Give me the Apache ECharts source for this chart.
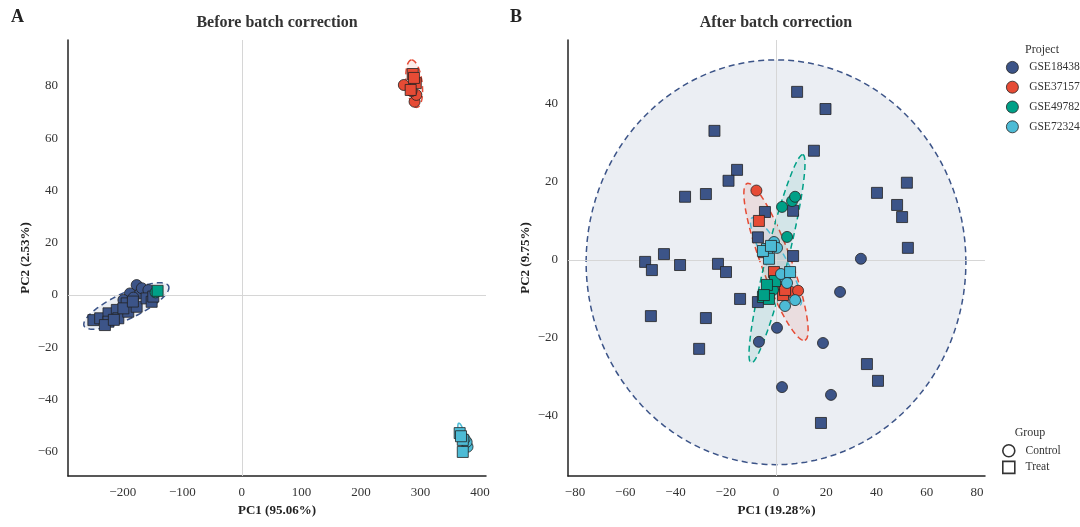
<!DOCTYPE html>
<html>
<head>
<meta charset="utf-8">
<script src="https://cdn.jsdelivr.net/npm/echarts@6/dist/echarts.min.js"></script>
<style>
  html, body { margin:0; padding:0; background:#fff; }
  #chart { width:1080px; height:527px; }
</style>
</head>
<body>
<div id="chart"></div>
<script>
const projects = ['GSE18438', 'GSE37157', 'GSE49782', 'GSE72324'];
const colors = ['#3C5488', '#E64B35', '#00A087', '#4DBBD5'];

// Before batch correction: [PC1, PC2]
const beforeControl = [
  [[-176.7, 3.8], [-188, 0.6], [-171, 0.6], [-199, -1.9], [-168, 2.6], [-157, 1.9], [-182, -1.0]],
  [[272, 80.3], [290, 73.9], [293, 76.5], [285, 78.0]],
  [[-145, 1.0]],
  [[379, -58], [377.5, -56.2], [374, -55]]
];
const beforeTreat = [
  [[-249.4, -9.6], [-238, -8.9], [-224, -7.0], [-224, -10.2], [-210, -5.7], [-207.5, -8.9], [-193.5, -3.2],
   [-190.8, -6.4], [-176.7, -4.5], [-160, -1.3], [-151.5, -2.6], [-148.8, -0.6], [-230, -11.5], [-199, -5.1],
   [-215, -9.5], [-183, -2.5]],
  [[287, 84.5], [292, 81], [289, 83], [283.5, 78.4]],
  [[-141.5, 1.6]],
  [[365.8, -52.8], [371, -55.4], [371, -60], [368, -54]]
];

// After batch correction
const afterControl = [
  [[33.8, 0.3], [25.5, -8.2], [18.7, -21.3], [21.9, -34.6], [0.4, -17.4], [-6.8, -21.0], [2.4, -32.6]],
  [[-7.8, 17.8], [6.0, -8.2], [8.8, -7.9], [2.8, -7.7]],
  [[2.4, 13.6], [6.4, 15.1], [7.6, 16.2], [4.4, 5.9], [-1.2, -7.7]],
  [[-0.8, 4.6], [0.4, 3.1], [3.6, -4.6], [4.4, -5.9], [3.6, -11.8], [2.0, -3.6], [7.6, -10.3]]
];
const afterTreat = [
  [[8.4, 43.1], [19.7, 38.7], [-24.5, 33.1], [15.1, 28.0], [-15.5, 23.1], [-18.9, 20.3], [-27.9, 16.9],
   [-36.2, 16.2], [-4.4, 12.3], [6.8, 12.6], [40.2, 17.2], [52.1, 19.8], [48.2, 14.1], [50.2, 11.0],
   [52.5, 3.1], [-7.2, 5.8], [-44.6, 1.5], [-52.1, -0.5], [-49.4, -2.6], [-38.2, -1.3], [-23.1, -1.0],
   [-19.9, -3.1], [6.8, 1.0], [-14.3, -10.0], [-7.2, -10.8], [-49.8, -14.4], [-27.9, -14.9], [-30.6, -22.8],
   [36.2, -26.7], [40.6, -31.0], [17.9, -41.8]],
  [[-6.8, 10.0], [-0.8, -3.1], [2.8, -9.0], [3.6, -7.7], [-4.8, 2.0]],
  [[-0.4, -5.4], [-3.6, -6.4], [-5.2, -9.5], [-2.8, -10.0], [-4.8, -9.0]],
  [[-3.6, 2.8], [-2.8, 0.3], [-5.2, 2.3], [5.6, -3.1], [-2.0, 3.6]]
];

// ellipses: [centerX, centerY, axis1X, axis1Y, axis2X, axis2Y] per project
const beforeEllipse = [
  [-194, -4.2, 71, 7.6, 8.5, -4.6],
  [289.4, 80.8, -4.7, 9.06, 13.3, 0.37],
  [-142, 1.5, 6, 0.8, 0.5, -1.2],
  [371, -54.7, -6.7, 5.7, 4.9, 0.3]
];
const afterEllipse = [
  [0, -0.6, 75.6, 0, 0, 51.9],
  [0, -0.5, 11.5, -20.1, 5.6, 1.3],
  [0.4, 0.3, 10.3, 26.7, 4.25, -0.69],
  [0, -0.4, 9.55, -11.2, 3.48, 1.24]
];

const serif = '"Liberation Serif", "DejaVu Serif", serif';
const minus = v => String(v).replace('-', '\u2212');

function hexA(hex, a) {
  const n = parseInt(hex.slice(1), 16);
  return `rgba(${n >> 16},${(n >> 8) & 255},${n & 255},${a})`;
}

function ellipseSeries(list, gi) {
  return {
    type: 'custom',
    xAxisIndex: gi, yAxisIndex: gi,
    silent: true, z: 1,
    encode: {x: 0, y: 1},
    data: list.map((e, i) => e.concat([i])),
    renderItem: (params, api) => {
      const cx = api.value(0), cy = api.value(1);
      const ux = api.value(2), uy = api.value(3), vx = api.value(4), vy = api.value(5);
      const c = colors[api.value(6)];
      const pts = [];
      for (let k = 0; k <= 120; k++) {
        const t = k / 120 * Math.PI * 2;
        pts.push(api.coord([cx + ux * Math.cos(t) + vx * Math.sin(t), cy + uy * Math.cos(t) + vy * Math.sin(t)]));
      }
      return {
        type: 'polygon',
        shape: {points: pts},
        style: {fill: hexA(c, 0.1), stroke: c, lineWidth: 1.5, lineDash: [6, 4]}
      };
    },
    markLine: {
      silent: true, symbol: 'none', label: {show: false}, z: 2,
      lineStyle: {color: '#d6d6d6', width: 1, type: 'solid'},
      data: [{xAxis: 0}, {yAxis: 0}]
    }
  };
}

function pointSeries(ctrl, treat, gi) {
  const out = [];
  projects.forEach((p, i) => {
    [[ctrl[i], 'circle'], [treat[i], 'rect']].forEach(([d, sym]) => {
      out.push({
        type: 'scatter', name: p, xAxisIndex: gi, yAxisIndex: gi, z: 3,
        symbol: sym, symbolSize: 11, data: d,
        itemStyle: {color: colors[i], borderColor: '#222', borderWidth: 0.8, opacity: 1}
      });
    });
  });
  return out;
}

function axis(gi, name, min, max, split, gap) {
  return {
    type: 'value', gridIndex: gi, min, max, splitNumber: split,
    name, nameLocation: 'middle', nameGap: gap,
    nameTextStyle: {fontFamily: serif, fontWeight: 'bold', fontSize: 13, color: '#222'},
    axisLine: {show: true, onZero: false, lineStyle: {color: '#222', width: 1.5}},
    axisTick: {show: false}, splitLine: {show: false},
    axisLabel: {fontFamily: serif, fontSize: 13, color: '#333', margin: 10,
      showMinLabel: false, showMaxLabel: false, formatter: minus}
  };
}

const chart = echarts.init(document.getElementById('chart'), null, {renderer: 'canvas'});
chart.setOption({
  backgroundColor: '#fff',
  animation: false,
  grid: [
    {left: 68, top: 40, width: 418, height: 436},
    {left: 568, top: 40, width: 417, height: 436}
  ],
  xAxis: [axis(0, 'PC1 (95.06%)', -292, 410, 7, 26), axis(1, 'PC1 (19.28%)', -82.8, 83.2, 8, 26)],
  yAxis: [axis(0, 'PC2 (2.53%)', -69.2, 97.5, 8, 36), axis(1, 'PC2 (9.75%)', -55.4, 56.4, 6, 36)],
  graphic: [
    {type: 'text', left: 11, top: 8, style: {text: 'A', font: 'bold 18px ' + serif, fill: '#222'}},
    {type: 'text', left: 510, top: 8, style: {text: 'B', font: 'bold 18px ' + serif, fill: '#222'}},
    {type: 'text', x: 277, y: 15, style: {text: 'Before batch correction', font: 'bold 16px ' + serif, fill: '#333', align: 'center'}},
    {type: 'text', x: 776, y: 15, style: {text: 'After batch correction', font: 'bold 16px ' + serif, fill: '#333', align: 'center'}},
    {type: 'text', x: 1042, y: 44, style: {text: 'Project', font: '12px ' + serif, fill: '#333', align: 'center'}},
    {type: 'text', x: 1030, y: 427, style: {text: 'Group', font: '12px ' + serif, fill: '#333', align: 'center'}}
  ],
  legend: [
    {
      orient: 'vertical', left: 1001, top: 56, itemWidth: 12, itemHeight: 12, itemGap: 7,
      selectedMode: false,
      formatter: n => '  ' + n,
      textStyle: {fontFamily: serif, fontSize: 11.5, color: '#333'},
      data: projects.map((p, i) => ({name: p, icon: 'circle',
        itemStyle: {color: colors[i], borderColor: '#222', borderWidth: 0.8}}))
    },
    {
      orient: 'vertical', left: 997, top: 439, itemWidth: 12, itemHeight: 12, itemGap: 3,
      selectedMode: false,
      formatter: n => '  ' + n,
      textStyle: {fontFamily: serif, fontSize: 11.5, color: '#333'},
      data: [
        {name: 'Control', icon: 'circle', itemStyle: {color: '#fff', borderColor: '#000', borderWidth: 1.6}},
        {name: 'Treat', icon: 'rect', itemStyle: {color: '#fff', borderColor: '#000', borderWidth: 1.6}}
      ]
    }
  ],
  series: [
    ellipseSeries(beforeEllipse, 0),
    ellipseSeries(afterEllipse, 1),
    ...pointSeries(beforeControl, beforeTreat, 0),
    ...pointSeries(afterControl, afterTreat, 1),
    {type: 'scatter', name: 'Control', xAxisIndex: 1, yAxisIndex: 1, data: [], symbol: 'circle',
      itemStyle: {color: '#fff', borderColor: '#000'}},
    {type: 'scatter', name: 'Treat', xAxisIndex: 1, yAxisIndex: 1, data: [], symbol: 'rect',
      itemStyle: {color: '#fff', borderColor: '#000'}}
  ]
});
</script>
</body>
</html>
